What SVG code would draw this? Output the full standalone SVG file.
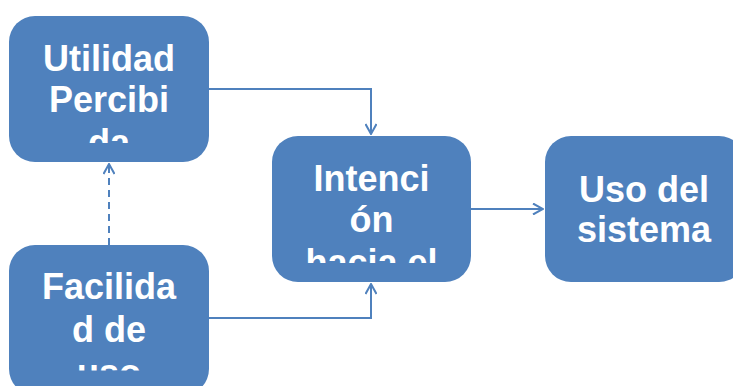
<svg xmlns="http://www.w3.org/2000/svg" width="733" height="386" viewBox="0 0 733 386">
  <style>
    .box { fill: #4F81BD; }
    .lbl { fill: #FFFFFF; font-family: "Liberation Sans", Arial, sans-serif; font-weight: bold; font-size: 36px; text-anchor: middle; }
    .edge { fill: none; stroke: #4F81BD; stroke-width: 2; }
    .dash { stroke-dasharray: 7 5; }
  </style>
  <defs>
    <marker id="arr" viewBox="0 0 12 12" refX="11" refY="6" markerWidth="12" markerHeight="12" markerUnits="userSpaceOnUse" orient="auto">
      <path d="M1,0.5 L11,6 L1,11.5" fill="none" stroke="#4F81BD" stroke-width="2"/>
    </marker>
    <!-- text areas of the boxes; overflowing lines are cut at the bottom -->
    <clipPath id="c1"><rect x="9" y="16" width="200" height="127"/></clipPath>
    <clipPath id="c2"><rect x="272" y="136" width="199" height="127"/></clipPath>
    <clipPath id="c3"><rect x="9" y="245" width="200" height="125.5"/></clipPath>
  </defs>

  <g id="connectors">
    <path class="edge" d="M209,89 H371 V134" marker-end="url(#arr)"/>
    <path class="edge" d="M209,318 H371 V284" marker-end="url(#arr)"/>
    <path class="edge" d="M471,209 H543" marker-end="url(#arr)"/>
    <path class="edge dash" d="M109,245 V164" marker-end="url(#arr)"/>
  </g>

  <g id="utilidad">
    <rect class="box" x="9" y="16" width="200" height="146" rx="26"/>
    <g clip-path="url(#c1)">
      <text class="lbl" x="109" y="71">Utilidad</text>
      <text class="lbl" x="109" y="112">Percibi</text>
      <text class="lbl" x="109" y="155">da</text>
    </g>
  </g>

  <g id="intencion">
    <rect class="box" x="272" y="136" width="199" height="146" rx="26"/>
    <g clip-path="url(#c2)">
      <text class="lbl" x="371.5" y="190.5">Intenci</text>
      <text class="lbl" x="371.5" y="231.5">ón</text>
      <text class="lbl" x="371.5" y="275">hacia el</text>
    </g>
  </g>

  <g id="facilidad">
    <rect class="box" x="9" y="245" width="200" height="150" rx="26"/>
    <g clip-path="url(#c3)">
      <text class="lbl" x="109" y="299">Facilida</text>
      <text class="lbl" x="109" y="341.5">d de</text>
      <text class="lbl" x="109" y="385">uso</text>
    </g>
  </g>

  <g id="uso">
    <rect class="box" x="545" y="136" width="200" height="146" rx="26"/>
    <text class="lbl" x="644" y="202">Uso del</text>
    <text class="lbl" x="644" y="242">sistema</text>
  </g>
</svg>
